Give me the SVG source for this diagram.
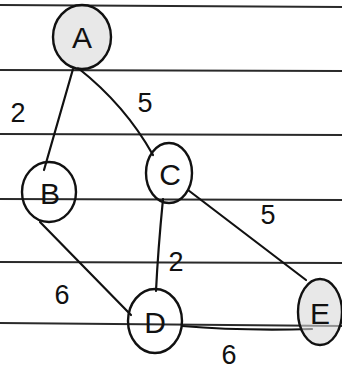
<svg xmlns="http://www.w3.org/2000/svg" width="342" height="372" viewBox="0 0 342 372">
<style>
.rule{stroke:#2a2a2a;stroke-width:2;fill:none}
.edge{stroke:#111;stroke-width:2.2;fill:none;stroke-linecap:round}
.node{stroke:#111;stroke-width:2.4;fill:none}
.shade{fill:#d8d8d8;fill-opacity:0.6}
.lbl{font-family:"Liberation Sans",Arial,sans-serif;font-size:30px;fill:#111;text-anchor:middle}
.w{font-family:"Liberation Sans",Arial,sans-serif;font-size:27px;fill:#111;text-anchor:middle}
</style>
<rect width="342" height="372" fill="#fff"/>
<g id="paper">
<path class="rule" d="M0 5 L342 7"/>
<path class="rule" d="M0 70 L342 71"/>
<path class="rule" d="M0 134 L342 135"/>
<path class="rule" d="M0 199 L342 200"/>
<path class="rule" d="M0 262 L342 263"/>
<path class="rule" d="M0 323 L342 326"/>
</g>
<g id="connectors">
<path class="edge" d="M73 69 L44 170"/>
<path class="edge" d="M78 68 Q125 105 153 155"/>
<path class="edge" d="M163 199 Q158 250 156 291"/>
<path class="edge" d="M188 190 L306 280"/>
<path class="edge" d="M40 222 L131 315"/>
<path class="edge" d="M182 326 Q240 331 312 329"/>
</g>
<g id="labels">
<text class="w" x="18" y="122">2</text>
<text class="w" x="145" y="112">5</text>
<text class="w" x="268" y="224">5</text>
<text class="w" x="176" y="271">2</text>
<text class="w" x="62" y="304">6</text>
<text class="w" x="229" y="364">6</text>
</g>
<g id="node-A">
<ellipse class="node shade" cx="82" cy="37" rx="29" ry="32"/>
<text class="lbl" x="82" y="48">A</text>
</g>
<g id="node-B">
<ellipse class="node" cx="49" cy="192" rx="27" ry="30"/>
<text class="lbl" x="50" y="204">B</text>
</g>
<g id="node-C">
<ellipse class="node" cx="169" cy="173" rx="23" ry="30"/>
<text class="lbl" x="170" y="185">C</text>
</g>
<g id="node-D">
<ellipse class="node" cx="155" cy="321" rx="27" ry="32"/>
<text class="lbl" x="155" y="333">D</text>
</g>
<g id="node-E">
<ellipse class="node shade" cx="320" cy="312" rx="22" ry="33"/>
<text class="lbl" x="320" y="324">E</text>
</g>
</svg>
